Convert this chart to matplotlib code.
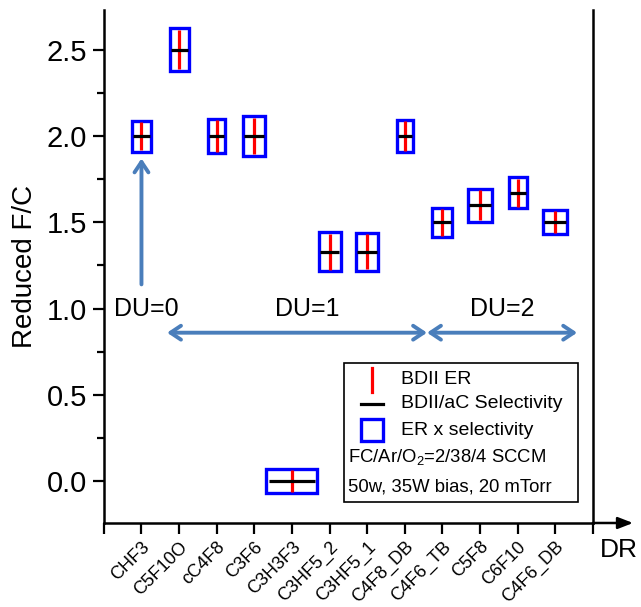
import matplotlib
matplotlib.use("Agg")
import matplotlib.pyplot as plt
from matplotlib.patches import Rectangle
from matplotlib.lines import Line2D

plt.rcParams['font.family'] = ['Liberation Sans', 'DejaVu Sans']
plt.rcParams['mathtext.fontset'] = 'custom'
plt.rcParams['mathtext.rm'] = 'Liberation Sans'
plt.rcParams['mathtext.it'] = 'Liberation Sans:italic'

# ---- data ----
gases = ["CHF3", "C5F10O", "cC4F8", "C3F6", "C3H3F3", "C3HF5_2", "C3HF5_1",
         "C4F8_DB", "C4F6_TB", "C5F8", "C6F10", "C4F6_DB"]
reduced_fc = [2.0, 2.5, 2.0, 2.0, 0.0, 1.33, 1.33, 2.0, 1.5, 1.6, 1.67, 1.5]
bdii_er = [0.97, 1.34, 1.06, 1.25, 0.75, 1.22, 1.19, 1.03, 0.91, 1.03, 0.97, 0.75]      # relative
bdii_sel = [0.95, 0.95, 0.85, 1.1, 2.55, 1.1, 1.1, 0.8, 1.0, 1.2, 0.9, 1.2]            # relative
du_labels = ["DU=0", "DU=1", "DU=2"]

ER_SCALE = 0.1854   # y-units per relative ER
SEL_SCALE = 0.532   # x-units per relative selectivity
ARROW_C = "#4a7ebb"

fig = plt.figure(figsize=(6.41, 6.07), dpi=100)
ax = fig.add_axes([0.162, 0.1384, 0.763, 0.845])
ax.set_xlim(0, 13)
ax.set_ylim(-0.243, 2.73)

for i, (fc, er, sel) in enumerate(zip(reduced_fc, bdii_er, bdii_sel)):
    x = i + 1
    h = er * ER_SCALE
    w = sel * SEL_SCALE
    ax.add_patch(Rectangle((x - w / 2, fc - h / 2), w, h, fill=False,
                           edgecolor='#0000ff', lw=2.4, zorder=3))
    ax.plot([x, x], [fc - h * 0.46, fc + h * 0.46], color='#ff0000', lw=2.3,
            solid_capstyle='butt', zorder=4)
    ax.plot([x - w * 0.45, x + w * 0.45], [fc, fc], color='black', lw=2.3,
            solid_capstyle='butt', zorder=5)

# arrows
ax.annotate("", xy=(1, 1.87), xytext=(1, 1.14),
            arrowprops=dict(arrowstyle="->,head_length=0.75,head_width=0.5",
                            color=ARROW_C, lw=2.8, shrinkA=0, shrinkB=0))
ax.annotate("", xy=(1.68, 0.86), xytext=(8.59, 0.86),
            arrowprops=dict(arrowstyle="<->,head_length=0.75,head_width=0.5",
                            color=ARROW_C, lw=2.8, shrinkA=0, shrinkB=0))
ax.annotate("", xy=(8.59, 0.86), xytext=(12.58, 0.86),
            arrowprops=dict(arrowstyle="<->,head_length=0.75,head_width=0.5",
                            color=ARROW_C, lw=2.8, shrinkA=0, shrinkB=0))
for xpos, lab in zip([1.14, 5.4, 10.59], du_labels):
    ax.text(xpos, 1.0, lab, fontsize=18, ha='center', va='center')

# axes styling
for s in ['left', 'right', 'bottom']:
    ax.spines[s].set_linewidth(1.8)
ax.spines['top'].set_visible(False)
ax.set_yticks([0.0, 0.5, 1.0, 1.5, 2.0, 2.5])
ax.set_yticklabels(["0.0", "0.5", "1.0", "1.5", "2.0", "2.5"])
ax.set_yticks([0.25, 0.75, 1.25, 1.75, 2.25], minor=True)
ax.tick_params(axis='y', which='major', length=8, width=1.6, labelsize=21, pad=4)
ax.tick_params(axis='y', which='minor', length=5, width=1.6)
ax.tick_params(axis='y', which='both', right=False)
ax.set_xticks(range(0, 14))
ax.set_xticklabels([""] + gases + [""], rotation=45, ha='right',
                   rotation_mode='anchor', fontsize=13)
ax.tick_params(axis='x', which='major', length=8, width=1.6, pad=3)
ax.set_ylabel("Reduced F/C", fontsize=20, labelpad=6)

# x-axis arrow extension
ax.annotate("", xy=(1.082, 0), xytext=(1.0, 0), xycoords='axes fraction',
            textcoords='axes fraction',
            arrowprops=dict(arrowstyle="-|>,head_length=0.9,head_width=0.35",
                            color='black', lw=1.8, shrinkA=0, shrinkB=0),
            annotation_clip=False)
ax.text(1.053, -0.053, "DR", transform=ax.transAxes, fontsize=19,
        ha='center', va='center', clip_on=False)

# custom legend box
T = ax.transAxes
ax.add_patch(Rectangle((0.491, 0.041), 0.478, 0.271, transform=T, fill=False,
                       edgecolor='black', lw=1.2, zorder=6))
hx = 0.548
ax.add_line(Line2D([hx, hx], [0.279 - 0.023, 0.279 + 0.023], transform=T,
                   color='#ff0000', lw=2.3, zorder=7))
ax.add_line(Line2D([hx - 0.022, hx + 0.022], [0.232, 0.232], transform=T,
                   color='black', lw=2.3, zorder=7))
ax.add_patch(Rectangle((hx - 0.022, 0.181 - 0.021), 0.044, 0.042, transform=T,
                       fill=False, edgecolor='#0000ff', lw=2.4, zorder=7))
leg_texts = ["BDII ER", "BDII/aC Selectivity", "ER x selectivity"]
for yy, t in zip([0.279, 0.232, 0.181], leg_texts):
    ax.text(0.607, yy, t, transform=T, fontsize=14, va='center', ha='left', zorder=7)
ax.text(0.499, 0.129, "FC/Ar/O$_2$=2/38/4 SCCM", transform=T, fontsize=13.3,
        va='center', ha='left', zorder=7)
ax.text(0.499, 0.070, "50w, 35W bias, 20 mTorr", transform=T, fontsize=13.3,
        va='center', ha='left', zorder=7)

fig.savefig("out.png", dpi=100)
